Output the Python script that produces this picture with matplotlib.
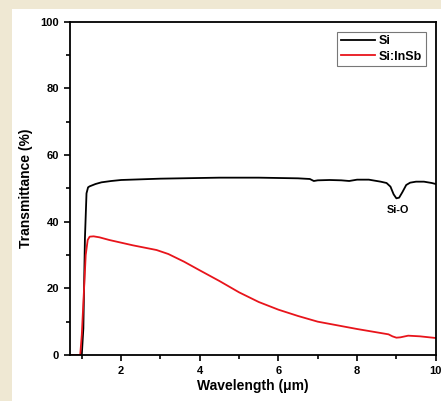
import numpy as np
import matplotlib.pyplot as plt
from matplotlib.patches import Rectangle

plt.rcParams['font.family'] = ['Liberation Sans', 'DejaVu Sans']
plt.rcParams['font.weight'] = 'bold'

# Si transmittance
si_wl = [0.70, 1.00, 1.04, 1.08, 1.12, 1.16, 1.20, 1.35, 1.5, 1.75, 2.0, 2.5, 3.0, 3.5, 4.0,
         4.5, 5.0, 5.5, 6.0, 6.5, 6.8, 6.9, 7.0, 7.3, 7.6, 7.8, 8.0, 8.3, 8.6, 8.75,
         8.85, 8.93, 9.0, 9.07, 9.15, 9.25, 9.35, 9.5, 9.7, 9.9, 10.0]
si_t = [0.0, 0.0, 8.0, 35.0, 48.5, 50.3, 50.6, 51.3, 51.8, 52.2, 52.5, 52.7, 52.9, 53.0, 53.1,
        53.2, 53.2, 53.2, 53.1, 53.0, 52.8, 52.2, 52.4, 52.5, 52.4, 52.2, 52.6, 52.6, 52.0, 51.6,
        50.5, 48.2, 47.0, 47.2, 48.8, 51.0, 51.7, 52.0, 52.0, 51.6, 51.3]

# Si:InSb transmittance
insb_wl = [0.70, 0.96, 1.00, 1.05, 1.10, 1.15, 1.20, 1.30, 1.45, 1.7, 2.0, 2.3, 2.6, 2.9, 3.2,
           3.6, 4.0, 4.5, 5.0, 5.5, 6.0, 6.5, 7.0, 7.5, 8.0, 8.5, 8.8, 8.9, 9.0, 9.1,
           9.3, 9.6, 10.0]
insb_t = [0.0, 0.0, 6.0, 18.0, 30.0, 34.5, 35.5, 35.6, 35.3, 34.5, 33.7, 32.9, 32.2, 31.5, 30.3,
          28.0, 25.4, 22.2, 18.8, 15.9, 13.6, 11.7, 10.0, 8.9, 7.8, 6.8, 6.2, 5.6, 5.2, 5.3,
          5.8, 5.6, 5.1]

fig = plt.figure(figsize=(4.41, 4.01), dpi=100)
fig.patch.set_facecolor('#efe8d3')
# white panel behind the plot
fig.patches.append(Rectangle((0.027, 0), 0.973, 0.978, transform=fig.transFigure,
                             facecolor='white', edgecolor='none', zorder=-10))

ax = fig.add_axes([0.1587, 0.1147, 0.8293, 0.8313])
ax.set_zorder(5)
ax.plot(si_wl, si_t, color='black', lw=1.3, label='Si')
ax.plot(insb_wl, insb_t, color='#e8141b', lw=1.3, label='Si:InSb')

ax.text(9.05, 43.5, 'Si-O', ha='center', va='center', fontsize=7.8, fontweight='bold')

ax.set_xlim(0.7, 10)
ax.set_ylim(0, 100)
ax.set_xticks([2, 4, 6, 8, 10])
ax.set_xticks([1, 3, 5, 7, 9], minor=True)
ax.set_yticks([0, 20, 40, 60, 80, 100])
ax.set_yticks([10, 30, 50, 70, 90], minor=True)
ax.tick_params(which='both', direction='out', top=False, right=False, labelsize=8, width=1.2)
ax.tick_params(which='major', length=4.5)
ax.tick_params(which='minor', length=3)
for lab in ax.get_xticklabels() + ax.get_yticklabels():
    lab.set_fontweight('bold')
for sp in ax.spines.values():
    sp.set_linewidth(1.3)

ax.set_xlabel('Wavelength (\u03bcm)', fontsize=10, fontweight='bold', labelpad=2)
ax.set_ylabel('Transmittance (%)', fontsize=10, fontweight='bold', labelpad=5)

leg = ax.legend(loc='upper right', fontsize=9, frameon=True, fancybox=False,
                edgecolor='#555555', borderaxespad=0.8, handlelength=2.7,
                handletextpad=0.3, borderpad=0.3, labelspacing=0.25)
leg.get_frame().set_linewidth(0.8)
for t in leg.get_texts():
    t.set_fontweight('bold')

fig.savefig('out.png', dpi=100, facecolor=fig.get_facecolor())
